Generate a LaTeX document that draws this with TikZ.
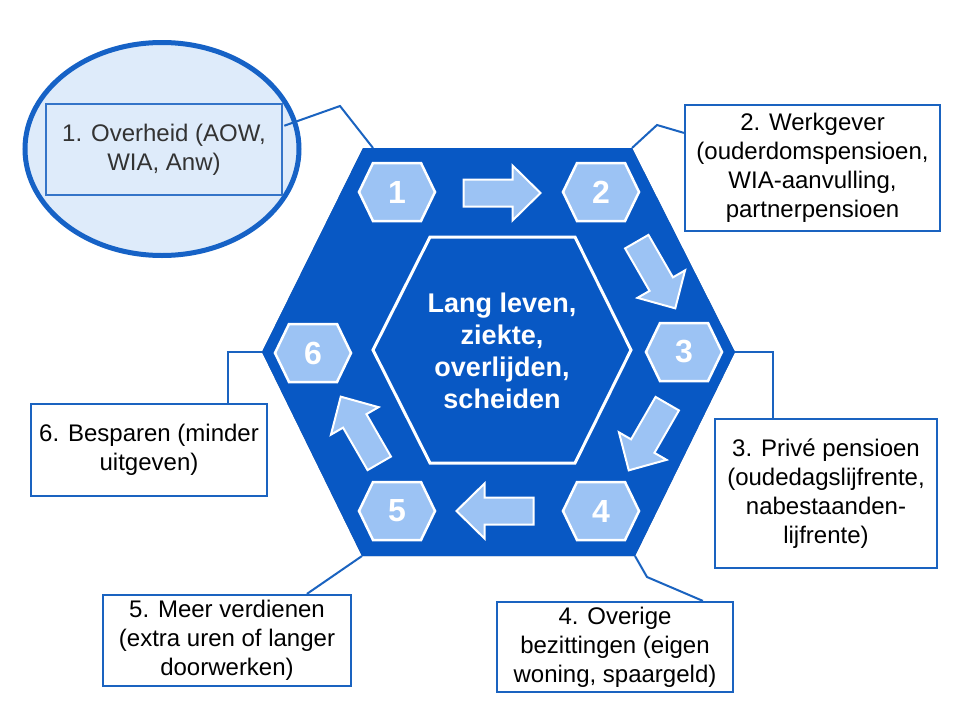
\documentclass[tikz,border=0pt]{standalone}
\usepackage{fontspec}
\setmainfont{Liberation Sans}
\usetikzlibrary{calc}
\definecolor{hexblue}{HTML}{0858C4}
\definecolor{lightfill}{HTML}{9CC3F4}
\definecolor{linkblue}{HTML}{1A63C0}
\definecolor{ellstroke}{HTML}{1662C6}
\definecolor{ellfill}{HTML}{DEEBFA}
\definecolor{rectstroke}{HTML}{3474C8}
\definecolor{shadowc}{HTML}{46608A}
\definecolor{darktext}{HTML}{333333}
\begin{document}
\begin{tikzpicture}[x=1pt,y=-1pt,
  infobox/.style={draw=linkblue, line width=2.2pt, fill=white, inner sep=0pt, align=center,
    font=\fontsize{24}{29}\selectfont, text=black},
  link/.style={draw=linkblue, line width=2pt},
  smallhex/.style={draw=white, line width=2.5pt, fill=lightfill, line join=miter},
  blockarrow/.style={draw=white, line width=2pt, fill=lightfill, line join=miter},
  numlabel/.style={text=white, font=\fontsize{32}{32}\selectfont\bfseries, inner sep=0pt},
  coretext/.style={text=white, align=center, font=\fontsize{27}{32}\selectfont\bfseries, inner sep=0pt}
]
\useasboundingbox (0,0) rectangle (960,720);
\fill[white] (0,0) rectangle (960,720);

% hexagon vertices
\coordinate (V1) at (363,148);
\coordinate (V2) at (632,148);
\coordinate (V3) at (735,352);
\coordinate (V4) at (635,556);
\coordinate (V5) at (362,556);
\coordinate (V6) at (262,352);

% highlight ellipse with box 1
\draw[ellstroke, line width=5pt, fill=ellfill] (162,149) ellipse [x radius=137pt, y radius=106.5pt];
\node[draw=rectstroke, line width=2.5pt, fill=ellfill, inner sep=0pt, align=center,
  font=\fontsize{24}{29}\selectfont, text=darktext, minimum width=236pt, minimum height=91pt]
  (b1) at (164,149.5) {1. Overheid (AOW,\\WIA, Anw)};

% big hexagon with shadow
\fill[shadowc, shift={(3,3)}] (V1)--(V2)--(V3)--(V4)--(V5)--(V6)--cycle;
\fill[hexblue] (V1)--(V2)--(V3)--(V4)--(V5)--(V6)--cycle;

% center hexagon
\draw[white, line width=3pt, fill=hexblue, line join=miter]
  (373,350)--(430,237)--(575,237)--(631,350)--(575,463)--(430,463)--cycle;
\node[coretext] (core) at (502,351) {Lang leven,\\ziekte,\\overlijden,\\scheiden};

% small numbered hexagons
\foreach \nm/\cx/\cy/\lab in {n1/397/192/1, n2/601/192/2, n3/684/352/3, n4/601/511/4, n5/397/511/5, n6/313/353/6}{
  \draw[smallhex, shift={(\cx,\cy)}] (-38,0)--(-24,-29)--(24,-29)--(38,0)--(24,29)--(-24,29)--cycle;
  \node[numlabel] (\nm) at (\cx,\cy) {\lab};
}

% block arrows
\foreach \cx/\cy/\ang in {502/193/0, 656/275/-60, 648/437/-120, 495/511/180, 360/430/120}{
  \draw[blockarrow, shift={(\cx,\cy)}, rotate=\ang]
    (-38.5,-13.5)--(10.5,-13.5)--(10.5,-27.5)--(38.5,0)--(10.5,27.5)--(10.5,13.5)--(-38.5,13.5)--cycle;
}

% info boxes
\node[infobox, minimum width=255pt, minimum height=126pt] (b2) at (812.5,168)
  {2. Werkgever\\(ouderdomspensioen,\\WIA-aanvulling,\\partnerpensioen};
\node[infobox, minimum width=222pt, minimum height=149pt] (b3) at (826,493.5)
  {3. Privé pensioen\\(oudedagslijfrente,\\nabestaanden-\\lijfrente)};
\node[infobox, minimum width=236pt, minimum height=90pt] (b4) at (615,647)
  {4. Overige\\bezittingen (eigen\\woning, spaargeld)};
\node[infobox, minimum width=248pt, minimum height=91pt] (b5) at (227,640.5)
  {5. Meer verdienen\\(extra uren of langer\\doorwerken)};
\node[infobox, minimum width=236pt, minimum height=92pt] (b6) at (149,450)
  {6. Besparen (minder\\uitgeven)};

% connectors
\coordinate (k1) at (340,106);
\coordinate (e1) at (373,148);
\draw[link] ($(b1.north east)+(1,23)$) -- (k1) -- (e1);
\coordinate (k2) at (657,125);
\draw[link] ($(b2.north west)+(0,29)$) -- (k2) -- (V2);
\coordinate (k3) at ($(b3.north west)+(59,0)$);
\draw[link] (V3) -| (k3);
\coordinate (k4) at (647,577);
\draw[link] (V4) -- (k4) -- ($(b4.north west)+(207,0)$);
\draw[link] (V5) -- ($(b5.north west)+(205,0)$);
\coordinate (k6) at ($(b6.north west)+(198,0)$);
\draw[link] (V6) -| (k6);
\end{tikzpicture}
\end{document}
